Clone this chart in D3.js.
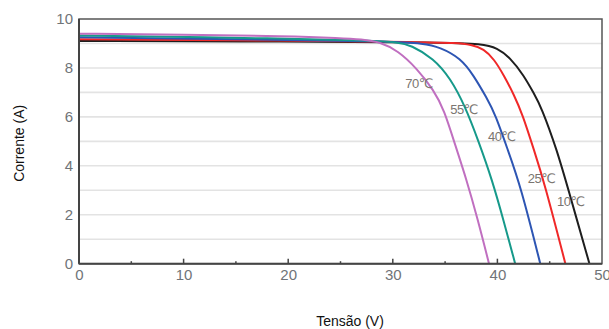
<!DOCTYPE html>
<html><head><meta charset="utf-8">
<script src="https://cdn.jsdelivr.net/npm/d3@7"></script>
<style>body{margin:0;background:#fff}svg{display:block}</style>
</head><body>
<svg id="c" width="609" height="329"></svg>
<script>
const xTicks = [0,10,20,30,40,50];
const yTicks = [0,2,4,6,8,10];
const seriesNames = ["70℃","55℃","40℃","25℃","10℃"];
const seriesColors = ["#c06fc0","#16998a","#2d55b3","#f02828","#1e1e1e"];
const v70 = [0,10,20,25,27,28.8,30.5,32.3,33.9,34.9,36.0,37.0,38.1,39.2];
const i70 = [9.4,9.36,9.3,9.22,9.17,9.06,8.7,7.98,7.1,6.3,4.8,3.5,1.85,0];
const v55 = [0,20,28,30.5,31.7,33.9,35.5,36.9,38.2,39.5,40.6,41.7];
const i55 = [9.33,9.2,9.12,9.05,8.94,8.39,7.58,6.45,5.0,3.42,1.75,0];
const v40 = [0,20,30,32.9,34.5,36.5,37.7,39.0,39.8,41.0,42.2,44.1];
const i40 = [9.25,9.15,9.08,9.0,8.85,8.39,7.71,6.76,6.1,4.64,3.2,0];
const v25 = [0,20,33,36,37.5,38.7,39.7,40.6,41.6,42.4,43.5,44.5,46.5];
const i25 = [9.17,9.12,9.06,9.02,8.95,8.78,8.35,7.71,6.89,6.1,4.64,3.3,0];
const v10 = [0,20,35,38.5,40.0,41.2,42.5,43.5,44.2,45.7,46.8,48.8];
const i10 = [9.1,9.08,9.04,8.98,8.82,8.42,7.71,6.95,6.4,4.64,3.0,0];
const labelV = [31.2,35.5,39.1,42.9,45.7];
const labelI = [7.2,6.12,5.01,3.3,2.36];

const V = [v70,v55,v40,v25,v10], I = [i70,i55,i40,i25,i10];
const svg = d3.select("#c");
const L=79, R=602, T=19, B=263.7;
const x = d3.scaleLinear().domain([0,50]).range([L,R]);
const y = d3.scaleLinear().domain([0,10]).range([B,T]);

// gridlines
svg.append("g").selectAll("line").data(d3.range(1,10)).join("line")
  .attr("x1",L).attr("x2",R).attr("y1",d=>y(d)).attr("y2",d=>y(d))
  .attr("stroke","#e3e3e3").attr("stroke-width",1.6);

// curves
const line = d3.line().x(d=>x(d[0])).y(d=>y(d[1])).curve(d3.curveBasis);
const order=[4,3,2,1,0];
order.forEach(k=>{
  svg.append("path").datum(V[k].map((v,j)=>[v,I[k][j]]))
    .attr("d",line).attr("fill","none").attr("stroke",seriesColors[k]).attr("stroke-width",2);
});

// frame
svg.append("rect").attr("x",L).attr("y",T).attr("width",R-L).attr("height",B-T)
  .attr("fill","none").attr("stroke","#555").attr("stroke-width",1.5);
svg.append("line").attr("x1",L).attr("x2",L).attr("y1",T).attr("y2",B).attr("stroke","#444").attr("stroke-width",2);
svg.append("line").attr("x1",L).attr("x2",R).attr("y1",B).attr("y2",B).attr("stroke","#444").attr("stroke-width",2);

// x axis ticks
const xa = d3.axisBottom(x).tickValues(xTicks).tickSize(0).tickPadding(6).tickFormat(d3.format("d"));
const gx = svg.append("g").attr("transform",`translate(0,${B})`).call(xa);
gx.select(".domain").remove();
gx.selectAll("text").attr("font-family","Liberation Sans, Arial, sans-serif").attr("font-size",15).attr("fill","#707478");
svg.append("g").selectAll("line").data(d3.range(5,50,5)).join("line")
  .attr("x1",d=>x(d)).attr("x2",d=>x(d)).attr("y1",B).attr("y2",d=>B-(d%10===0?5:2.5))
  .attr("stroke","#444").attr("stroke-width",1.5);

const ya = d3.axisLeft(y).tickValues(yTicks).tickSize(0).tickPadding(6).tickFormat(d3.format("d"));
const gy = svg.append("g").attr("transform",`translate(${L},0)`).call(ya);
gy.select(".domain").remove();
gy.selectAll("text").attr("font-family","Liberation Sans, Arial, sans-serif").attr("font-size",15).attr("fill","#707478");

// series labels
svg.append("g").selectAll("text").data(seriesNames).join("text")
  .attr("x",(d,k)=>x(labelV[k])).attr("y",(d,k)=>y(labelI[k]))
  .attr("font-family","Liberation Sans, DejaVu Sans, sans-serif").attr("font-size",13)
  .attr("fill","#7a7570").attr("letter-spacing","-0.5").text(d=>d);

// axis titles
svg.append("text").attr("transform",`translate(24,${(T+B)/2+2}) rotate(-90)`)
  .attr("text-anchor","middle").attr("font-family","Liberation Sans, Arial, sans-serif")
  .attr("font-size",14).attr("fill","#111").text("Corrente (A)");
svg.append("text").attr("x",350).attr("y",326).attr("text-anchor","middle")
  .attr("font-family","Liberation Sans, Arial, sans-serif")
  .attr("font-size",14).attr("fill","#111").text("Tensão (V)");
</script>
</body></html>
